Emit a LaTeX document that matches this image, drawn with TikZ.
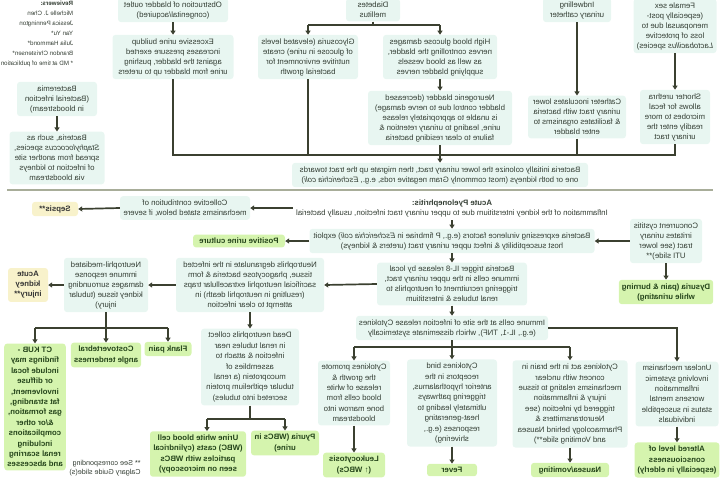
\documentclass[tikz,border=0pt]{standalone}
\usepackage{fontspec}
\setmainfont{Liberation Sans}
\usetikzlibrary{arrows.meta}
\definecolor{boxc}{HTML}{E8F6F1}
\definecolor{resc}{HTML}{D5F4AE}
\definecolor{yelc}{HTML}{F8F2CB}
\definecolor{txtc}{HTML}{333D33}
\definecolor{restxt}{HTML}{24441A}
\definecolor{linec}{HTML}{3B4030}
\definecolor{sepc}{HTML}{A8AD99}
\newcommand{\fa}{\fontsize{7.8}{10}\selectfont}
\newcommand{\fb}{\fontsize{7.8}{10.4}\selectfont}
\tikzset{
 mirr/.style={xscale=-1},
 box/.style={mirr, fill=boxc, rounded corners=3pt, align=center, inner xsep=3pt, inner ysep=3.5pt, text=txtc, font=\fa},
 boxb/.style={box, font=\fb},
 res/.style={box, fill=resc, text=restxt, font=\fa\bfseries},
 resb/.style={res, font=\fb\bfseries},
 warn/.style={box, fill=yelc, text=black!80, font=\fa\bfseries},
 lbl/.style={mirr, align=left, inner sep=0pt, text=txtc, font=\fontsize{6.2}{10}\selectfont},
 conn/.style={draw=linec, line width=1.7pt},
 arr/.style={conn, -{Triangle[length=4pt,width=5pt]}},
 sepl/.style={draw=sepc, line width=2pt},
}
\begin{document}
\begin{tikzpicture}[x=1pt, y=-1pt]
\useasboundingbox (0,0) rectangle (720,480);

% ---------- header ----------
\node[lbl] (rev) at (37,34) {\textbf{Reviewers:}\\Michelle J. Chen\\Jessica Pennington\\Yan Yu*\\Julia Hammond*\\Brandon Christensen*\\* MD at time of publication};

% ---------- risk factors ----------
\node[box, minimum width=110pt] (obst) at (173,10) {Obstruction of bladder outlet\\(congenital/acquired)};
\node[box, minimum width=121pt] (exc) at (173,57) {Excessive urine buildup\\increases pressure exerted\\against the bladder, pushing\\urine from bladder up to ureters};
\node[box, minimum width=54pt] (diab) at (373,10) {Diabetes\\mellitus};
\node[box, minimum width=100pt] (glyc) at (308,57) {Glycosuria (elevated levels\\of glucose in urine) create\\nutritive environment for\\bacterial growth};
\node[box, minimum width=114pt] (high) at (440,57) {High blood glucose damages\\nerves controlling the bladder,\\as well as blood vessels\\supplying bladder nerves};
\node[box, minimum width=144pt] (neuro) at (440,118) {Neurogenic bladder (decreased\\bladder control due to nerve damage)\\is unable to appropriately release\\urine, leading to urinary retention \&\\failure to clear residing bacteria};
\node[box, minimum width=68pt] (indw) at (577,10) {Indwelling\\urinary catheter};
\node[box, minimum width=98pt] (cath) at (577,117) {Catheter inoculates lower\\urinary tract with bacteria\\\& facilitates organisms to\\enter bladder};
\node[box, minimum width=83pt] (fem) at (675,26) {Female sex\\(especially post-\\menopausal due to\\loss of protective\\\textit{Lactobacillus} species)};
\node[box, minimum width=70pt] (short) at (675,117) {Shorter urethra\\allows for fecal\\microbes to more\\readily enter the\\urinary tract};
\node[box, minimum width=296pt] (colon) at (440,175) {Bacteria initially colonize the lower urinary tract, then migrate up the tract towards\\one or both kidneys (most commonly Gram negative rods, e.g., \textit{Escherichia coli})};
\node[box, minimum width=80pt] (bact) at (57,99) {Bacteremia\\(Bacterial infection\\in bloodstream)};
\node[box, minimum width=95pt] (staph) at (57,158) {Bacteria, such as\\\textit{Staphylococcus} species,\\spread from another site\\of infection to kidneys\\via bloodstream};

\draw[arr] (obst.south) -- (exc.north);
\coordinate (dL) at (308,25);
\coordinate (dR) at (440,25);
\draw[conn] (diab.south) -- (diab.south |- dL);
\draw[conn] (dL) -- (dR);
\draw[arr] (dL) -- (glyc.north);
\draw[arr] (dR) -- (high.north);
\draw[arr] (high.south) -- (neuro.north);
\draw[arr] (indw.south) -- (cath.north);
\draw[arr] (fem.south) -- (short.north);
\coordinate (bL) at (173,155);
\coordinate (bR) at (675,155);
\draw[conn] (exc.south) -- (bL) -- (bR) -- (short.south);
\draw[conn] (glyc.south) -- (glyc.south |- bL);
\draw[conn] (cath.south) -- (cath.south |- bL);
\draw[arr] (neuro.south) -- (colon.north);
\draw[arr] (bact.south) -- (staph.north);

% ---------- separator ----------
\coordinate (sL) at (7,190);
\coordinate (sR) at (713,190);
\draw[sepl] (sL) -- (sR);

% ---------- pathogenesis ----------
\node[mirr, align=center, text=txtc, font=\fa] (title) at (452,208) {\textbf{Acute Pyelonephritis:}\\Inflammation of the kidney interstitium due to upper urinary tract infection, usually bacterial};
\node[box, minimum width=130pt] (coll) at (185,208) {Collective contribution of\\mechanisms stated below, if severe};
\node[warn, minimum width=46pt] (sepsis) at (55,209) {Sepsis**};
\node[box, minimum width=285pt] (virul) at (452,241) {Bacteria expressing virulence factors (e.g., P fimbriae in \textit{Escherichia coli}) exploit\\host susceptibility \& infect upper urinary tract (ureters \& kidneys)};
\node[box, minimum width=72pt] (cyst) at (666,241) {Concurrent cystitis\\irritates urinary\\tract (see lower\\UTI slide)**};
\node[res, minimum width=92pt] (dys) at (666,292) {Dysuria (pain \& burning\\while urinating)};
\node[res, minimum width=92pt] (cult) at (239,241) {Positive urine culture};
\node[box, minimum width=150pt] (il8) at (452,284) {Bacteria trigger IL-8 release by local\\immune cells in the upper urinary tract,\\triggering recruitment of neutrophils to\\renal tubules \& interstitium};
\node[box, minimum width=148pt] (degr) at (250,285) {Neutrophils degranulate in the infected\\tissue, phagocytose bacteria \& form\\sacrificial neutrophil extracellular traps\\(resulting in neutrophil death) in\\attempt to clear infection};
\node[box, minimum width=84pt] (nmed) at (106,285) {Neutrophil-mediated\\immune response\\damages surrounding\\kidney tissue (tubular\\injury)};
\node[warn, minimum width=40pt] (aki) at (28,285) {Acute\\kidney\\injury**};

\draw[arr] (title.east) -- (coll.west);
\draw[arr] (coll.east) -- (sepsis.west);
\draw[arr] (title.south) -- (virul.north);
\draw[arr] (cyst.east) -- (virul.west);
\draw[arr] (cyst.south) -- (dys.north);
\draw[arr] (virul.east) -- (cult.west);
\draw[arr] (virul.south) -- (il8.north);
\draw[arr] (il8.east) -- (degr.west);
\draw[arr] (degr.east) -- (nmed.west);
\draw[arr] (nmed.east) -- (aki.west);

% ---------- signs ----------
\node[resb, minimum width=47pt] (flank) at (168,349) {Flank pain};
\node[resb, minimum width=66pt] (cva) at (106,355) {Costovertebral\\angle tenderness};
\node[resb, minimum width=55pt] (ct) at (35,407) {CT KUB -\\findings may\\include focal\\or diffuse\\involvement,\\fat stranding,\\gas formation,\\\&/or other\\complications\\including\\renal scarring\\and abscesses};
\coordinate (nL) at (35,328);
\coordinate (nR) at (168,328);
\draw[conn] (nmed.south) -- (nmed.south |- nL);
\draw[conn] (nL) -- (nR);
\draw[arr] (nL) -- (ct.north);
\draw[arr] (nR) -- (flank.north);
\draw[arr] (nmed.south |- nL) -- (cva.north);

\node[boxb, minimum width=98pt] (dead) at (250,367) {Dead neutrophils collect\\in renal tubules near\\infection \& attach to\\assemblies of\\mucoprotein (a renal\\tubular epithelium protein\\secreted into tubules)};
\node[resb, minimum width=96pt] (wbc) at (198,454) {Urine white blood cell\\(WBC) casts (cylindrical\\particles with WBCs\\seen on microscopy)};
\node[resb, minimum width=68pt] (pyu) at (285,443) {Pyuria (WBCs in\\urine)};
\draw[arr] (degr.south) -- (dead.north);
\coordinate (wL) at (207,419);
\coordinate (wR) at (285,419);
\draw[conn] (dead.south) -- (dead.south |- wL);
\draw[conn] (wL) -- (wR);
\draw[arr] (wL) -- (wL |- wbc.north);
\draw[arr] (wR) -- (pyu.north);

\node[box, minimum width=191pt] (imm) at (452,328) {Immune cells at the site of infection release Cytokines\\(e.g., IL-1, TNF), which disseminate systemically};
\draw[arr] (il8.south) -- (imm.north);
\node[boxb, minimum width=72pt] (prom) at (354,393) {Cytokines promote\\the growth \&\\release of white\\blood cells from\\bone marrow into\\bloodstream};
\node[resb, minimum width=62pt] (leuk) at (354,465) {Leukocytosis\\(↑ WBCs)};
\node[boxb, minimum width=90pt] (bind) at (452,403) {Cytokines bind\\receptors in the\\anterior hypothalamus,\\triggering pathways\\ultimately leading to\\heat-generating\\responses (e.g.,\\shivering)};
\node[resb, minimum width=50pt] (fever) at (452,470) {Fever};
\node[boxb, minimum width=115pt] (act) at (570,404) {Cytokines act in the brain in\\concert with unclear\\mechanisms relating to tissue\\injury \& inflammation\\triggered by infection (see\\Neurotransmitters \&\\Pharmacology behind Nausea\\and Vomiting slide**)};
\node[resb, minimum width=78pt] (naus) at (570,470) {Nausea/vomiting};
\node[boxb, minimum width=83pt] (uncl) at (677,394) {Unclear mechanism\\involving systemic\\inflammation\\worsens mental\\status in susceptible\\individuals};
\node[resb, minimum width=82pt] (alt) at (677,460) {Altered level of\\consciousness\\(especially in elderly)};

\coordinate (iL) at (354,347);
\coordinate (iR) at (570,347);
\draw[conn] (imm.south) -- (imm.south |- iL);
\draw[conn] (iL) -- (iR);
\draw[arr] (iL) -- (prom.north);
\draw[arr] (imm.south |- iL) -- (bind.north);
\draw[arr] (iR) -- (act.north);
\draw[arr] (imm.west) -| (uncl.north);
\draw[arr] (prom.south) -- (leuk.north);
\draw[arr] (bind.south) -- (fever.north);
\draw[arr] (act.south) -- (naus.north);
\draw[arr] (uncl.south) -- (alt.north);

\node[lbl, font=\fontsize{7.2}{9.5}\selectfont] (foot) at (105,468) {** See corresponding\\Calgary Guide slide(s)};
\end{tikzpicture}
\end{document}
